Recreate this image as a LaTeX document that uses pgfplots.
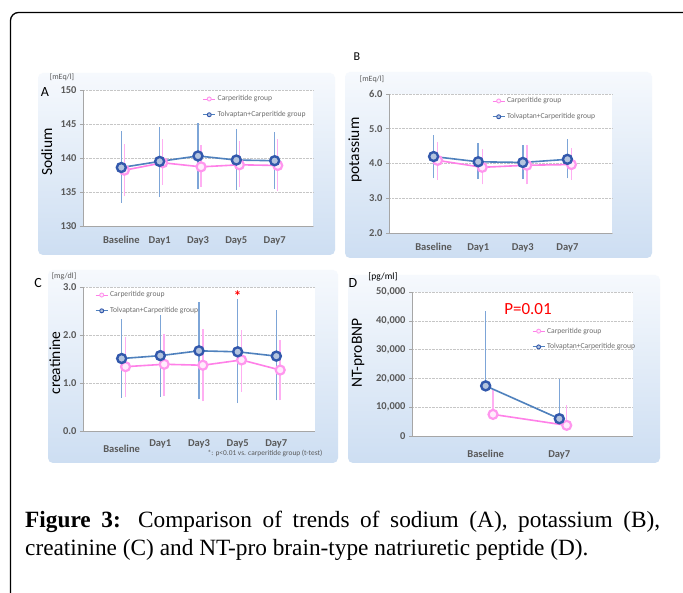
\documentclass[border=0pt]{standalone}
\usepackage{fontspec}
\usepackage{pgfplots}
\pgfplotsset{compat=1.18}
\setmainfont{Liberation Serif}
\newfontfamily\carl{Carlito}
\definecolor{blueline}{RGB}{79,129,189}
\definecolor{ebblue}{RGB}{125,165,215}
\definecolor{bluemark}{RGB}{50,88,172}
\definecolor{bluefill}{RGB}{180,196,222}
\definecolor{pinkline}{RGB}{255,128,232}
\definecolor{ebpink}{RGB}{255,175,242}
\definecolor{pinkmark}{RGB}{255,150,238}
\definecolor{pinkfill}{RGB}{255,236,252}
\definecolor{boxtop}{RGB}{246,249,253}
\definecolor{boxbot}{RGB}{205,222,242}
\definecolor{tickgray}{RGB}{89,89,89}
\definecolor{leggray}{RGB}{110,110,110}
\pgfplotsset{
  panel/.style={
    scale only axis, clip=false,
    axis background/.style={fill=white},
    axis x line*=bottom, axis y line*=left,
    axis line style={draw=gray!70, line width=0.6pt, -},
    ymajorgrids, grid style={gray!45, densely dotted, line width=0.5pt},
    /pgf/number format/assume math mode=true,
    tick label style={font=\carl\bfseries\fontsize{10.5}{11}\selectfont, text=tickgray},
    xticklabel style={yshift=-4pt},
    xtick style={draw=none}, ytick style={draw=gray!70, line width=0.5pt},
    tick align=outside, major tick length=3pt,
    unbounded coords=jump,
    legend style={draw=none, fill=none, inner sep=0pt, row sep=5pt,
      font=\carl\fontsize{7.6}{8}\selectfont, text=leggray, cells={anchor=west}},
    legend image code/.code={\draw[mark repeat=2, mark phase=2, #1, line width=0.9pt,
      every mark/.append style={line width=0.9pt}, mark size=2pt]
      plot coordinates {(0pt,0pt) (6pt,0pt) (12pt,0pt)};},
  },
  ylab/.style n args={3}{ylabel={#1},
    every axis y label/.style={at={(axis description cs:#2,#3)}, rotate=90, anchor=center,
      font=\carl\fontsize{15.5}{16}\selectfont}},
  pinkp/.style={color=pinkline, line width=1.6pt, mark=*, mark size=4.5pt,
    mark options={draw=pinkmark, fill=pinkfill, line width=2.2pt}},
  bluep/.style={color=blueline, line width=1.6pt, mark=*, mark size=4.5pt,
    mark options={draw=bluemark, fill=bluefill, line width=2.4pt}},
  pinkeb/.style={forget plot, draw=ebpink, line width=1.4pt, mark=none},
  blueeb/.style={forget plot, draw=ebblue, line width=1.6pt, mark=none},
}
\begin{document}
\begin{tikzpicture}[x=1pt,y=1pt]
\useasboundingbox (0pt,0pt) rectangle (683pt,-593pt);
\fill[white] (0pt,0pt) rectangle (683pt,-593pt);
\draw[line width=1.3pt, rounded corners=8pt] (10.5pt,-600pt) -- (10.5pt,-12.5pt) -- (690pt,-12.5pt);
% panel backgrounds
\shade[top color=boxtop, bottom color=boxbot, rounded corners=5pt] (38pt,-73pt) rectangle (335pt,-255pt);
\shade[top color=boxtop, bottom color=boxbot, rounded corners=5pt] (345pt,-72pt) rectangle (652pt,-258pt);
\shade[top color=boxtop, bottom color=boxbot, rounded corners=5pt] (48pt,-270pt) rectangle (338pt,-463pt);
\shade[top color=boxtop, bottom color=boxbot, rounded corners=5pt] (348pt,-275pt) rectangle (660pt,-463pt);
% panel letters and units
\node[font=\carl\fontsize{14}{15}\selectfont] at (45pt,-92pt) {A};
\node[font=\carl\fontsize{8}{9}\selectfont, text=tickgray] at (62pt,-77pt) {[mEq/l]};
\node[font=\carl\fontsize{12}{13}\selectfont] at (357pt,-57pt) {B};
\node[font=\carl\fontsize{8}{9}\selectfont, text=tickgray] at (372pt,-79pt) {[mEq/l]};
\node[font=\carl\fontsize{14}{15}\selectfont] at (38pt,-283pt) {C};
\node[font=\carl\fontsize{8}{9}\selectfont, text=tickgray] at (64pt,-276pt) {[mg/dl]};
\node[font=\carl\fontsize{14}{15}\selectfont] at (353pt,-283pt) {D};
\node[font=\carl\fontsize{9.5}{10}\selectfont] at (383pt,-277pt) {[pg/ml]};

% ---------- A: Sodium (mean; whisker low/high)
\begin{axis}[panel, at={(83pt,-226pt)}, anchor=south west, width=230pt, height=136pt,
  xmin=-1, xmax=5, ymin=130, ymax=150, ytick={130,135,...,150},
  xtick={0,1,2,3,4}, xticklabels={Baseline,Day1,Day3,Day5,Day7},
  ylab={Sodium}{-0.157}{0.544},
  legend style={at={(0.52,0.975)}, anchor=north west}]
\addplot[pinkeb] coordinates {(0.08,134.4) (0.08,142.0) (0.08,nan) (1.08,136.1) (1.08,142.8) (1.08,nan)
  (2.08,135.7) (2.08,141.9) (2.08,nan) (3.08,135.7) (3.08,142.5) (3.08,nan) (4.08,135.1) (4.08,142.8)};
\addplot[pinkp] coordinates {(0.08,138.2) (1.08,139.3) (2.08,138.7) (3.08,139.0) (4.08,138.9)};
\addlegendentry{Carperitide group}
\addplot[blueeb] coordinates {(0,133.4) (0,143.9) (0,nan) (1,134.3) (1,144.5) (1,nan)
  (2,135.4) (2,145.2) (2,nan) (3,135.3) (3,144.2) (3,nan) (4,135.5) (4,143.8)};
\addplot[bluep] coordinates {(0,138.6) (1,139.5) (2,140.3) (3,139.7) (4,139.6)};
\addlegendentry{Tolvaptan+Carperitide group}
\end{axis}

% ---------- B: Potassium
\begin{axis}[panel, at={(389pt,-233pt)}, anchor=south west, width=223pt, height=139pt,
  xmin=-1, xmax=4, ymin=2, ymax=6, ytick={2,3,4,5,6},
  yticklabel style={/pgf/number format/.cd, fixed, fixed zerofill, precision=1},
  xtick={0,1,2,3}, xticklabels={Baseline,Day1,Day3,Day7},
  ylab={potassium}{-0.152}{0.597},
  legend style={at={(0.462,0.99)}, anchor=north west}]
\addplot[pinkeb] coordinates {(0.09,3.53) (0.09,4.62) (0.09,nan) (1.09,3.40) (1.09,4.43) (1.09,nan)
  (2.09,3.40) (2.09,4.54) (2.09,nan) (3.09,3.53) (3.09,4.46)};
\addplot[pinkp] coordinates {(0.09,4.09) (1.09,3.89) (2.09,3.95) (3.09,3.97)};
\addlegendentry{Carperitide group}
\addplot[blueeb] coordinates {(0,3.58) (0,4.82) (0,nan) (1,3.55) (1,4.58) (1,nan)
  (2,3.55) (2,4.54) (2,nan) (3,3.57) (3,4.70)};
\addplot[bluep] coordinates {(0,4.20) (1,4.05) (2,4.03) (3,4.12)};
\addlegendentry{Tolvaptan+Carperitide group}
\end{axis}

% ---------- C: Creatinine
\begin{axis}[panel, at={(83pt,-431pt)}, anchor=south west, width=232pt, height=144pt,
  xmin=-1, xmax=5, ymin=0, ymax=3, ytick={0,1,2,3},
  xticklabel style={yshift=2pt},
  yticklabel style={/pgf/number format/.cd, fixed, fixed zerofill, precision=1},
  xtick={0,1,2,3,4}, xticklabels={\rule{0pt}{13pt}Baseline,Day1,Day3,Day5,Day7},
  ylab={creatinine}{-0.121}{0.472},
  legend style={at={(0.052,0.983)}, anchor=north west}]
\addplot[pinkeb] coordinates {(0.1,0.71) (0.1,1.96) (0.1,nan) (1.1,0.73) (1.1,2.03) (1.1,nan)
  (2.1,0.62) (2.1,2.13) (2.1,nan) (3.1,0.82) (3.1,2.11) (3.1,nan) (4.1,0.64) (4.1,1.90)};
\addplot[pinkp] coordinates {(0.1,1.34) (1.1,1.39) (2.1,1.37) (3.1,1.48) (4.1,1.27)};
\addlegendentry{Carperitide group}
\addplot[blueeb] coordinates {(0,0.69) (0,2.34) (0,nan) (1,0.71) (1,2.42) (1,nan)
  (2,0.66) (2,2.69) (2,nan) (3,0.58) (3,2.74) (3,nan) (4,0.64) (4,2.52)};
\addplot[bluep] coordinates {(0,1.51) (1,1.57) (2,1.67) (3,1.65) (4,1.56)};
\addlegendentry{Tolvaptan+Carperitide group}
\node[text=red, font=\carl\bfseries\fontsize{15}{15}\selectfont] at (axis cs:3,2.82) {*};
\end{axis}
\node[font=\carl\fontsize{7.4}{8}\selectfont, text=tickgray] at (265pt,-453pt) {*: p<0.01 vs. carperitide group (t-test)};

% ---------- D: NT-proBNP (upper whiskers only)
\begin{axis}[panel, at={(412pt,-436pt)}, anchor=south west, width=221pt, height=144pt,
  xmin=-1, xmax=2, ymin=0, ymax=50000, ytick={0,10000,...,50000},
  scaled y ticks=false, xticklabel style={yshift=-4pt},
  yticklabel style={/pgf/number format/.cd, fixed, 1000 sep={,}},
  xtick={0,1}, xticklabels={Baseline,Day7},
  ylab={NT-proBNP}{-0.244}{0.576},
  legend style={at={(0.543,0.767)}, anchor=north west}]
\addplot[pinkeb] coordinates {(0.1,7500) (0.1,15900) (0.1,nan) (1.1,3700) (1.1,10600)};
\addplot[pinkp] coordinates {(0.1,7500) (1.1,3700)};
\addlegendentry{Carperitide group}
\addplot[blueeb] coordinates {(0,17400) (0,43400) (0,nan) (1,6000) (1,19900)};
\addplot[bluep] coordinates {(0,17400) (1,6000)};
\addlegendentry{Tolvaptan+Carperitide group}
\end{axis}
\node[text=red, font=\carl\fontsize{17}{18}\selectfont] at (528pt,-309pt) {P=0.01};

% caption
\node[anchor=base west, inner sep=0pt, font=\fontsize{23.3}{27}\selectfont] at (25pt,-527pt)
  {\makebox[635pt][s]{\textbf{Figure 3:} Comparison of trends of sodium (A), potassium (B),}};
\node[anchor=base west, inner sep=0pt, font=\fontsize{23.3}{27}\selectfont] at (25pt,-555pt)
  {creatinine (C) and NT-pro brain-type natriuretic peptide (D).};
\end{tikzpicture}
\end{document}
